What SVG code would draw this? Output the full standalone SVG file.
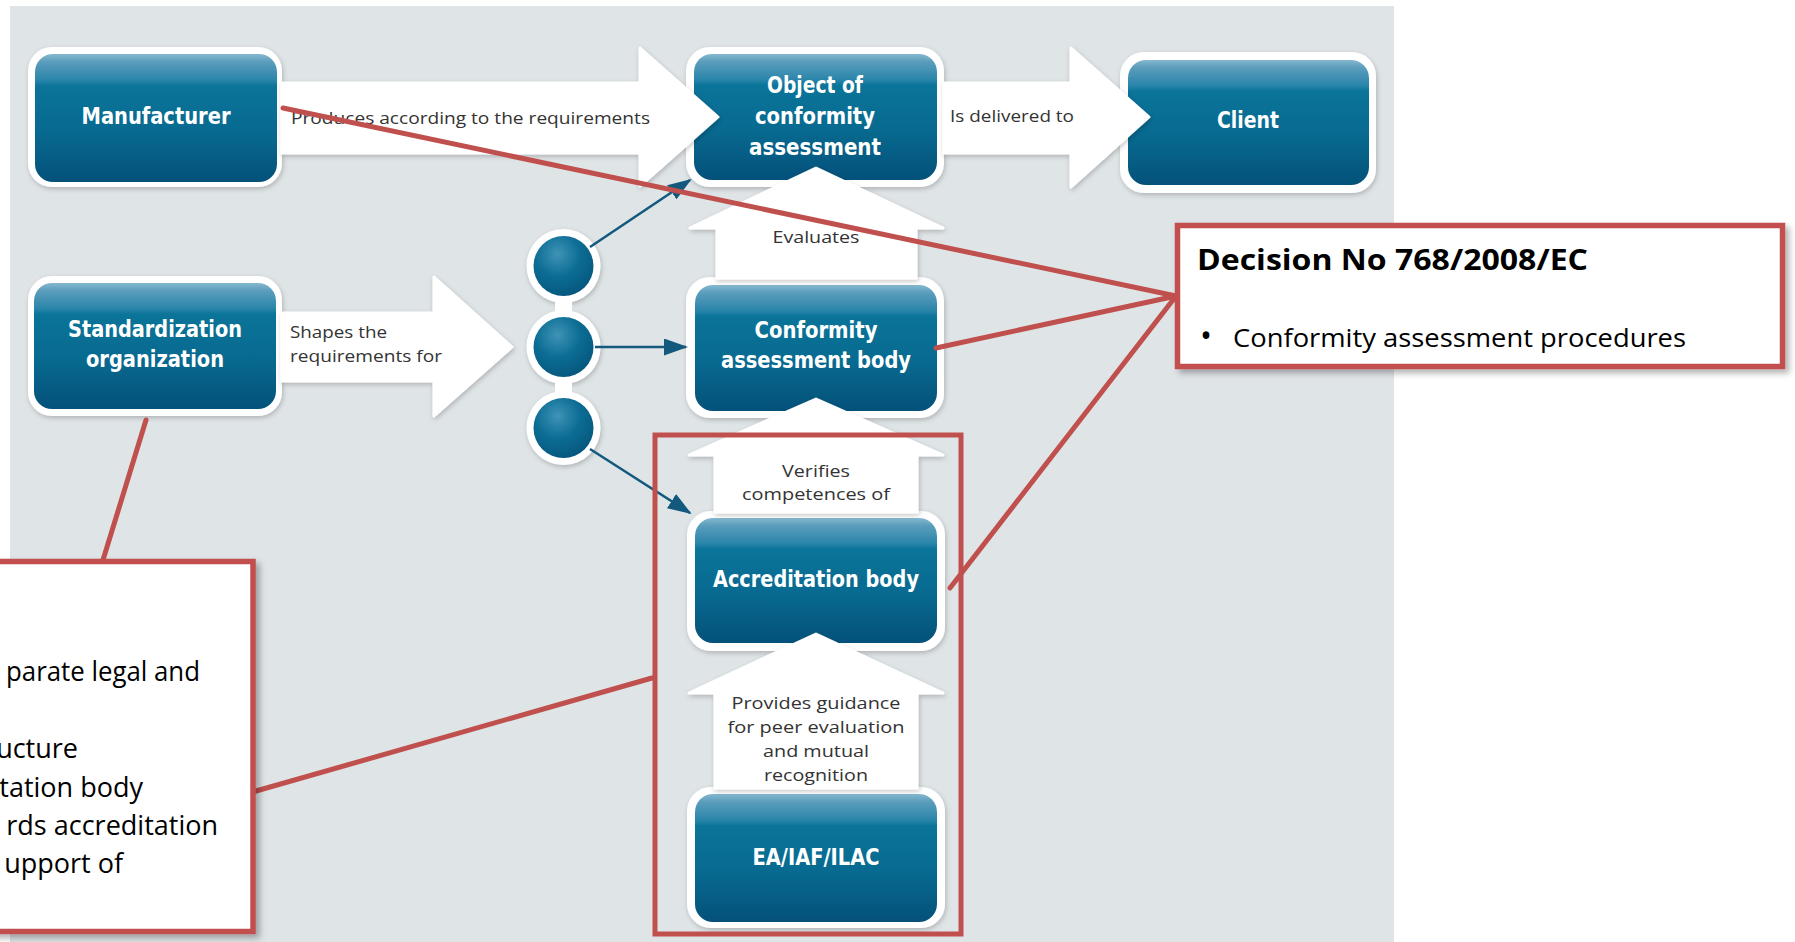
<svg xmlns="http://www.w3.org/2000/svg" width="1795" height="942" viewBox="0 0 1795 942">
<defs>
<linearGradient id="blue" x1="0" y1="0" x2="0" y2="1">
<stop offset="0" stop-color="#86b8cf"/>
<stop offset="0.06" stop-color="#5c9dbc"/>
<stop offset="0.2" stop-color="#2b86ab"/>
<stop offset="0.25" stop-color="#0b7499"/>
<stop offset="0.6" stop-color="#086a90"/>
<stop offset="1" stop-color="#04517a"/>
</linearGradient>
<radialGradient id="ball" cx="0.4" cy="0.3" r="0.75">
<stop offset="0" stop-color="#3f93b6"/>
<stop offset="0.5" stop-color="#0c6d94"/>
<stop offset="1" stop-color="#05557c"/>
</radialGradient>
<filter id="sh" x="-15%" y="-15%" width="135%" height="140%">
<feDropShadow dx="1" dy="2" stdDeviation="2.5" flood-color="#000" flood-opacity="0.22"/>
</filter>
<filter id="rsh" x="-10%" y="-10%" width="125%" height="130%">
<feDropShadow dx="4" dy="4" stdDeviation="3" flood-color="#000" flood-opacity="0.3"/>
</filter>
<marker id="ah" markerUnits="userSpaceOnUse" viewBox="0 0 24 17" markerWidth="24" markerHeight="17" refX="22" refY="8.5" orient="auto">
<path d="M0,0 L24,8.5 L0,17 z" fill="#12597d"/>
</marker>
<style>
.outer{fill:#fff;filter:url(#sh)}
.inner{fill:url(#blue)}
.nl{font-family:"DejaVu Sans Condensed","DejaVu Sans",sans-serif;font-weight:bold;font-size:23px;fill:#fff;text-anchor:middle}
.big{fill:#fff;stroke:#fff;stroke-width:3;stroke-linejoin:round;filter:url(#sh)}
.cl{font-family:"Open Sans","Noto Sans",sans-serif;font-size:17px;fill:#333}
.cm{text-anchor:middle}
.small{stroke:#12597d;stroke-width:2.5;fill:none;marker-end:url(#ah)}
.red{stroke:#c0504d;stroke-width:5;fill:none;stroke-linecap:round}
.rbox{fill:#fff;stroke:#c0504d;stroke-width:5.5;filter:url(#rsh)}
.bt{font-family:"Open Sans","Noto Sans",sans-serif;fill:#000}
</style>
</defs>
<rect x="0" y="0" width="1795" height="942" fill="#fff"/>
<rect x="10" y="6" width="1384" height="936" fill="#dfe4e7"/>

<g id="manufacturer">
<rect class="outer" x="28" y="47" width="254" height="140" rx="24"/>
<rect class="inner" x="35" y="54" width="242" height="128" rx="18"/>
<text class="nl" x="156" y="124" textLength="149" lengthAdjust="spacingAndGlyphs">Manufacturer</text>
</g>
<g id="object">
<rect class="outer" x="686" y="47" width="258" height="140" rx="24"/>
<rect class="inner" x="694" y="54" width="243" height="126" rx="18"/>
<text class="nl" x="815" y="93" textLength="96" lengthAdjust="spacingAndGlyphs">Object of</text>
<text class="nl" x="815" y="124" textLength="120" lengthAdjust="spacingAndGlyphs">conformity</text>
<text class="nl" x="815" y="155" textLength="132" lengthAdjust="spacingAndGlyphs">assessment</text>
</g>
<g id="client">
<rect class="outer" x="1120" y="52" width="256" height="141" rx="24"/>
<rect class="inner" x="1128" y="60" width="241" height="125" rx="18"/>
<text class="nl" x="1248" y="128" textLength="62" lengthAdjust="spacingAndGlyphs">Client</text>
</g>
<g id="standardization">
<rect class="outer" x="28" y="276" width="254" height="140" rx="24"/>
<rect class="inner" x="34" y="283" width="242" height="126" rx="18"/>
<text class="nl" x="155" y="337" textLength="174" lengthAdjust="spacingAndGlyphs">Standardization</text>
<text class="nl" x="155" y="367" textLength="138" lengthAdjust="spacingAndGlyphs">organization</text>
</g>
<g id="cab">
<rect class="outer" x="686" y="277" width="258" height="141" rx="24"/>
<rect class="inner" x="695" y="285" width="242" height="126" rx="18"/>
<text class="nl" x="816" y="338" textLength="123" lengthAdjust="spacingAndGlyphs">Conformity</text>
<text class="nl" x="816" y="368" textLength="190" lengthAdjust="spacingAndGlyphs">assessment body</text>
</g>
<g id="accreditation">
<rect class="outer" x="687" y="511" width="258" height="140" rx="24"/>
<rect class="inner" x="695" y="518" width="242" height="125" rx="18"/>
<text class="nl" x="816" y="587" textLength="206" lengthAdjust="spacingAndGlyphs">Accreditation body</text>
</g>
<g id="ea">
<rect class="outer" x="687" y="787" width="258" height="141" rx="24"/>
<rect class="inner" x="695" y="794" width="242" height="128" rx="18"/>
<text class="nl" x="816" y="865" textLength="127" lengthAdjust="spacingAndGlyphs">EA/IAF/ILAC</text>
</g>
<g id="junction">
<rect x="555" y="266" width="17" height="162" fill="#fff"/>
<circle cx="563.5" cy="266" r="37" fill="#fff" filter="url(#sh)"/>
<circle cx="563.5" cy="347" r="37" fill="#fff" filter="url(#sh)"/>
<circle cx="563.5" cy="428" r="37" fill="#fff" filter="url(#sh)"/>
<rect x="555" y="290" width="17" height="114" fill="#fff"/>
<circle cx="563.5" cy="266" r="30" fill="url(#ball)"/>
<circle cx="563.5" cy="347" r="30" fill="url(#ball)"/>
<circle cx="563.5" cy="428" r="30" fill="url(#ball)"/>
</g>

<g id="connectors">
<polygon class="big" points="282,83 640,83 640,48 718,117 640,186 640,153 282,153"/>
<text class="cl" x="291" y="124" textLength="359" lengthAdjust="spacingAndGlyphs">Produces according to the requirements</text>
<polygon class="big" points="944,83 1071,83 1071,48 1149,117 1071,187 1071,153 944,153"/>
<text class="cl" x="950" y="122" textLength="124" lengthAdjust="spacingAndGlyphs">Is delivered to</text>
<polygon class="big" points="282,313 434,313 434,277 512,347 434,416 434,381 282,381"/>
<text class="cl" x="290" y="338" textLength="97" lengthAdjust="spacingAndGlyphs">Shapes the</text>
<text class="cl" x="290" y="362" textLength="152" lengthAdjust="spacingAndGlyphs">requirements for</text>
<polygon class="big" points="717,278 717,228 690,228 816,168 943,228 916,228 916,278"/>
<text class="cl cm" x="816" y="243" textLength="87" lengthAdjust="spacingAndGlyphs">Evaluates</text>
<polygon class="big" points="715,512 715,455 689,455 816,399 943,455 917,455 917,512"/>
<text class="cl cm" x="816" y="477" textLength="68" lengthAdjust="spacingAndGlyphs">Verifies</text>
<text class="cl cm" x="816" y="500" textLength="148" lengthAdjust="spacingAndGlyphs">competences of</text>
<polygon class="big" points="715,788 715,693 689,693 816,634 943,693 917,693 917,788"/>
<text class="cl cm" x="816" y="709" textLength="169" lengthAdjust="spacingAndGlyphs">Provides guidance</text>
<text class="cl cm" x="816" y="733" textLength="177" lengthAdjust="spacingAndGlyphs">for peer evaluation</text>
<text class="cl cm" x="816" y="757" textLength="106" lengthAdjust="spacingAndGlyphs">and mutual</text>
<text class="cl cm" x="816" y="781" textLength="104" lengthAdjust="spacingAndGlyphs">recognition</text>
<line class="small" x1="590" y1="247" x2="690" y2="180"/>
<line class="small" x1="595" y1="347" x2="686" y2="347"/>
<line class="small" x1="590" y1="449" x2="690" y2="513"/>
<line class="red" x1="283" y1="108" x2="1176" y2="296"/>
<line class="red" x1="936" y1="348" x2="1176" y2="296"/>
<line class="red" x1="950" y1="588" x2="1176" y2="296"/>
<line class="red" x1="146" y1="420" x2="103" y2="560"/>
<line class="red" x1="256" y1="791" x2="652" y2="678"/>
<rect x="655" y="435" width="306" height="499" fill="none" stroke="#c0504d" stroke-width="5"/>
</g>

<g id="decision-box">
<rect class="rbox" x="1177.5" y="225.5" width="605" height="141"/>
<text class="bt" x="1197" y="270" font-size="29" font-weight="bold" textLength="391" lengthAdjust="spacingAndGlyphs">Decision No 768/2008/EC</text>
<text class="bt" x="1200" y="347" font-size="32">•</text>
<text class="bt" x="1233" y="347" font-size="26" textLength="453" lengthAdjust="spacingAndGlyphs">Conformity assessment procedures</text>
</g>
<g id="left-box">
<rect class="rbox" x="-20" y="561.5" width="273" height="370"/>
<text class="bt" x="6" y="681" font-size="27" textLength="194" lengthAdjust="spacingAndGlyphs">parate legal and</text>
<text class="bt" x="78" y="758" font-size="27" text-anchor="end">ucture</text>
<text class="bt" x="143" y="797" font-size="27" text-anchor="end">tation body</text>
<text class="bt" x="218" y="835" font-size="27" text-anchor="end">rds accreditation</text>
<text class="bt" x="123" y="873" font-size="27" text-anchor="end">upport of</text>
</g>
</svg>
